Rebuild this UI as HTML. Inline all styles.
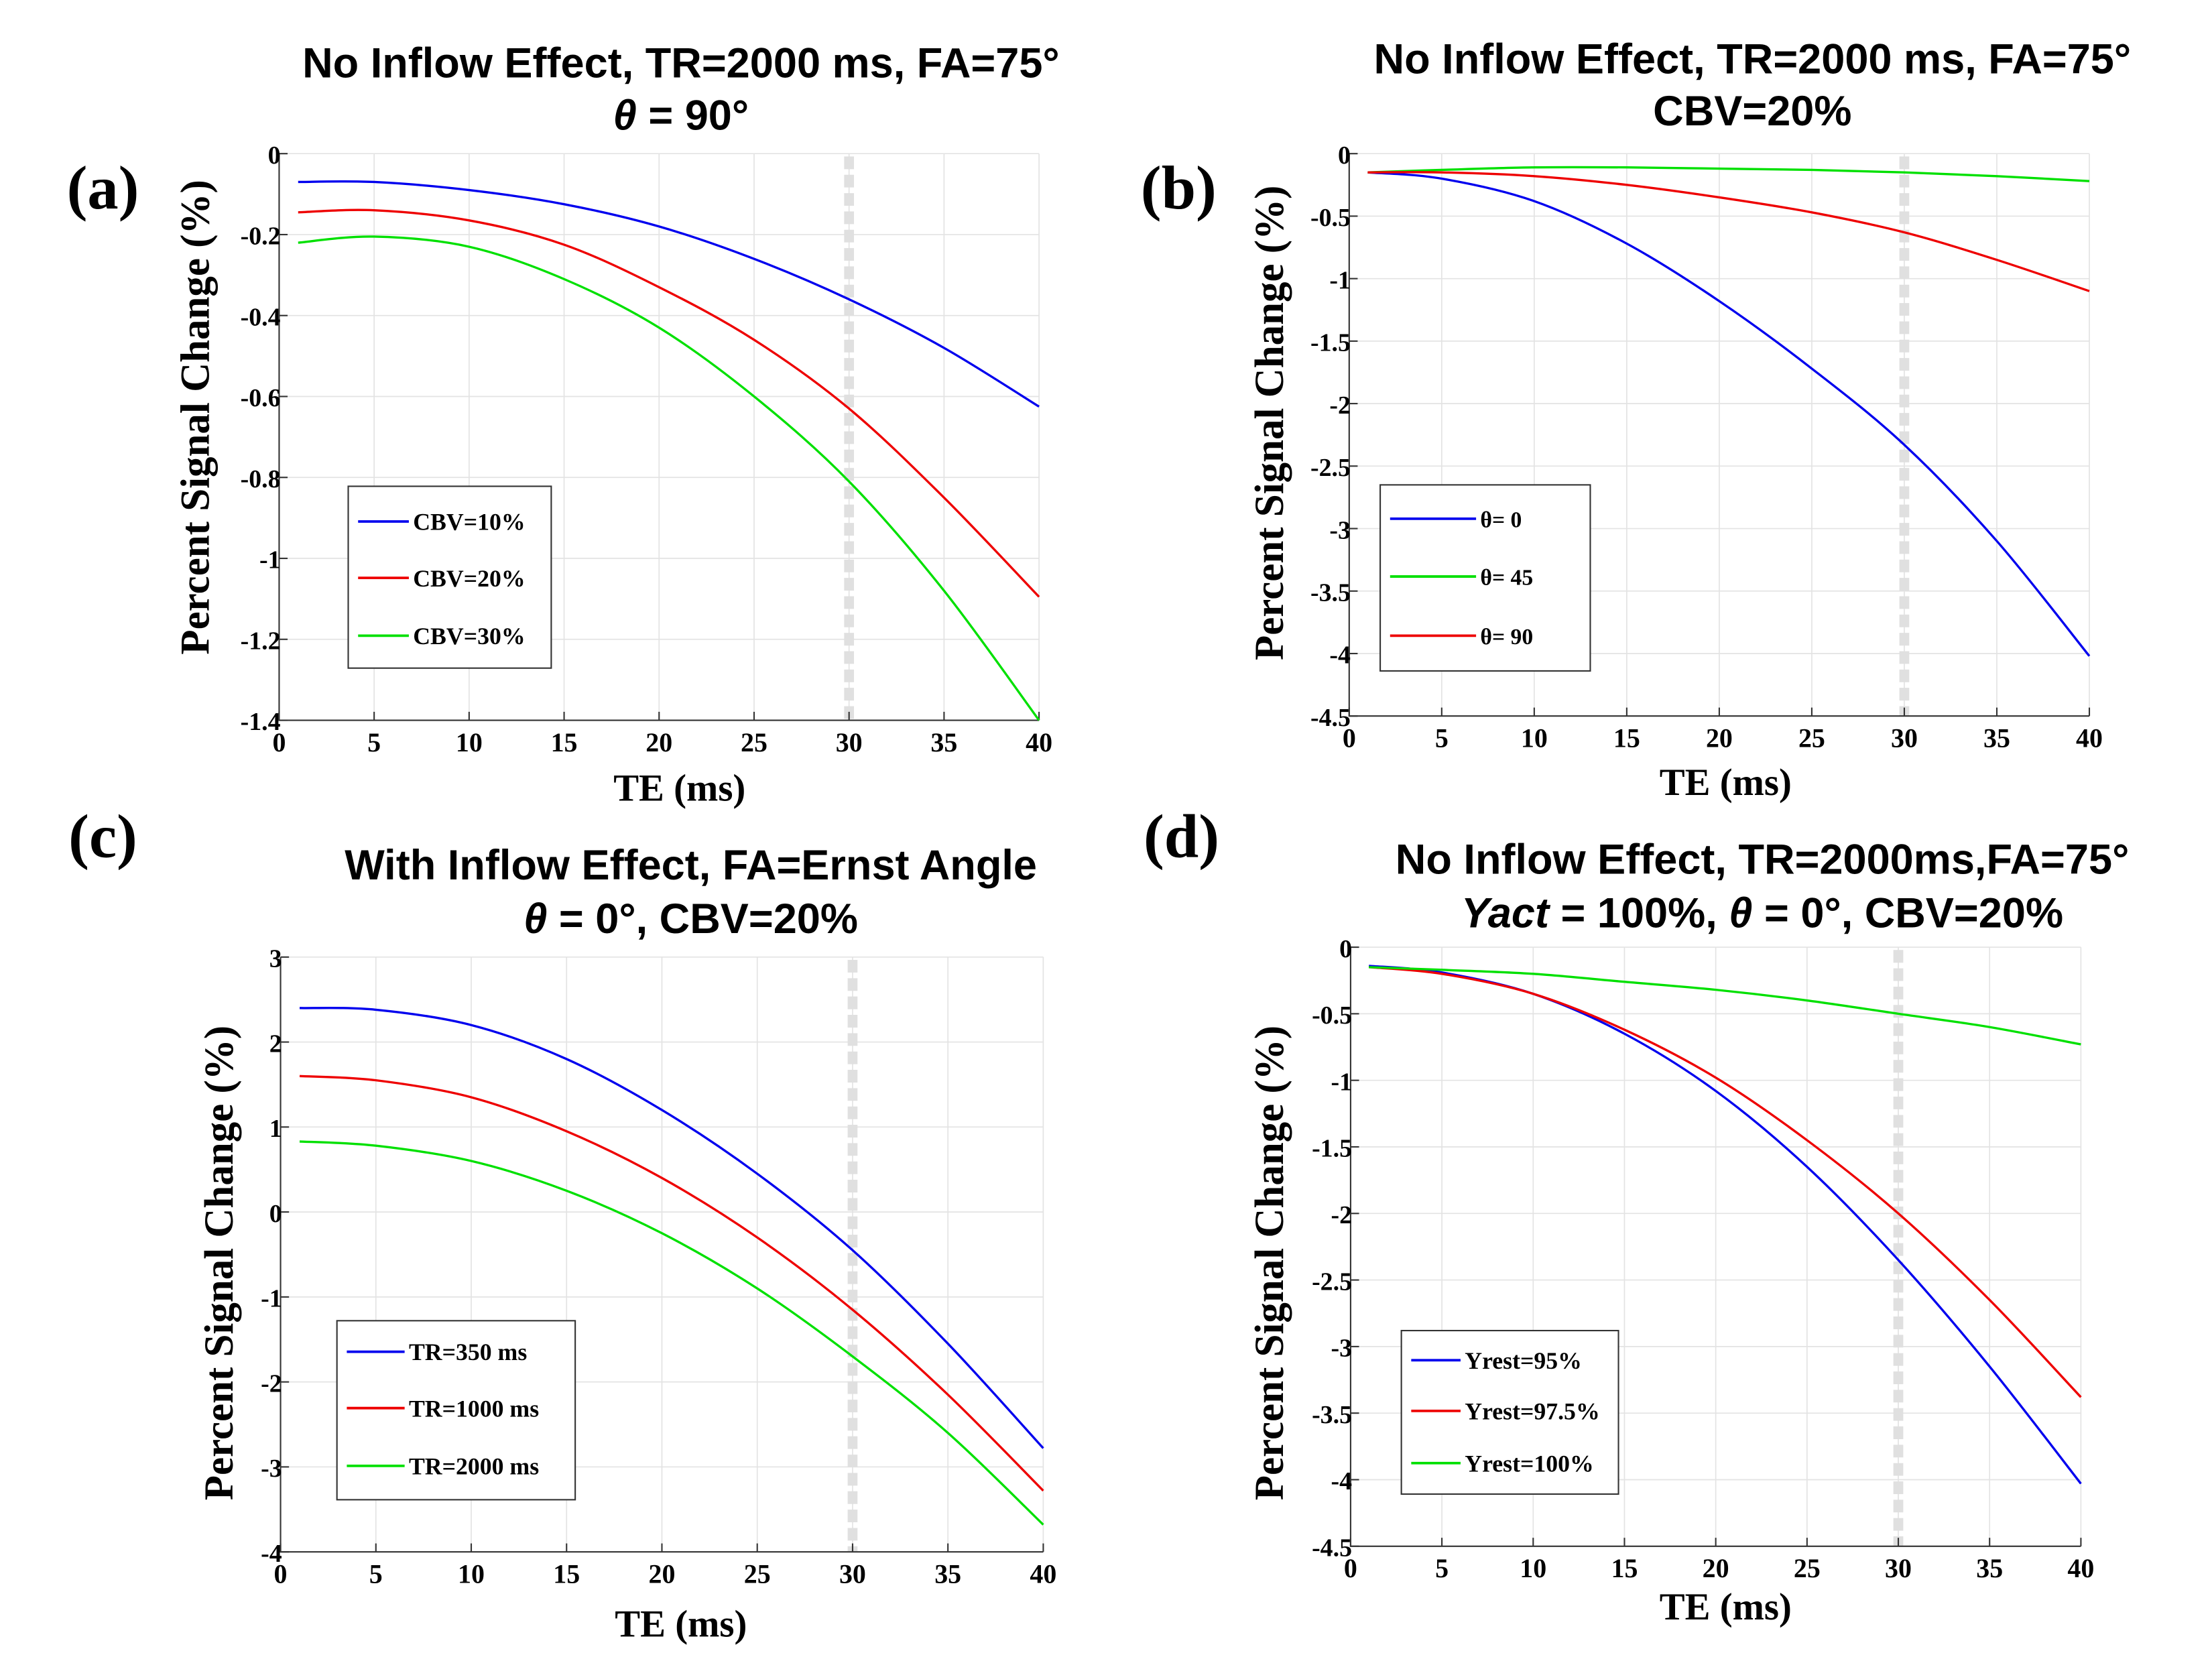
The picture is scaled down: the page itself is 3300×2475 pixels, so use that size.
<!DOCTYPE html>
<html><head><meta charset="utf-8"><style>
html,body{margin:0;padding:0;background:#fff}
svg{display:block}
</style></head><body>
<svg id="fig" width="3300" height="2475" viewBox="0 0 1569 1177" preserveAspectRatio="none" xmlns="http://www.w3.org/2000/svg"></svg>
<script>
const xs = [1,5,10,15,20,25,30,35,40];
const xTicks = [0,5,10,15,20,25,30,35,40];
// panel a
const aTicks = [0,-0.2,-0.4,-0.6,-0.8,-1,-1.2,-1.4];
const aBlue = [-0.07,-0.07,-0.09,-0.125,-0.18,-0.26,-0.36,-0.48,-0.625];
const aRed = [-0.145,-0.14,-0.165,-0.225,-0.33,-0.46,-0.63,-0.85,-1.095];
const aGreen = [-0.22,-0.205,-0.23,-0.31,-0.43,-0.6,-0.81,-1.08,-1.4];
const aNames = ["CBV=10%","CBV=20%","CBV=30%"];
// panel b
const bTicks = [0,-0.5,-1,-1.5,-2,-2.5,-3,-3.5,-4,-4.5];
const bBlue = [-0.15,-0.2,-0.38,-0.72,-1.18,-1.72,-2.33,-3.1,-4.02];
const bGreen = [-0.15,-0.13,-0.11,-0.11,-0.12,-0.13,-0.15,-0.18,-0.22];
const bRed = [-0.15,-0.15,-0.18,-0.25,-0.35,-0.47,-0.63,-0.85,-1.1];
const bNames = ["\u03b8= 0","\u03b8= 45","\u03b8= 90"];
// panel c
const cTicks = [3,2,1,0,-1,-2,-3,-4];
const cBlue = [2.4,2.38,2.2,1.8,1.2,0.45,-0.45,-1.55,-2.78];
const cRed = [1.6,1.55,1.35,0.95,0.4,-0.3,-1.15,-2.15,-3.28];
const cGreen = [0.83,0.78,0.6,0.25,-0.25,-0.9,-1.7,-2.6,-3.68];
const cNames = ["TR=350 ms","TR=1000 ms","TR=2000 ms"];
// panel d
const dTicks = [0,-0.5,-1,-1.5,-2,-2.5,-3,-3.5,-4,-4.5];
const dBlue = [-0.14,-0.19,-0.35,-0.65,-1.08,-1.65,-2.35,-3.15,-4.03];
const dRed = [-0.15,-0.2,-0.35,-0.62,-0.98,-1.45,-2.0,-2.65,-3.38];
const dGreen = [-0.15,-0.17,-0.2,-0.26,-0.32,-0.4,-0.5,-0.6,-0.73];
const dNames = ["Yrest=95%","Yrest=97.5%","Yrest=100%"];

const NS="http://www.w3.org/2000/svg";
const svg=document.getElementById('fig');
function el(tag,attrs,parent,text){const e=document.createElementNS(NS,tag);for(const k in attrs)e.setAttribute(k,attrs[k]);if(text!==undefined)e.textContent=text;(parent||svg).appendChild(e);return e;}
const serif='"Liberation Serif", serif';
const narrow='"Liberation Sans Narrow","Liberation Sans", sans-serif';

function panel(cfg){
  const g=el('g',{});
  
  
  const X=v=>cfg.x0+(v-0)/(40)*(cfg.x1-cfg.x0);
  const ymax=cfg.ticks[0], ymin=cfg.ticks[cfg.ticks.length-1];
  const Y=v=>cfg.y0+(ymax-v)/(ymax-ymin)*(cfg.y1-cfg.y0);
  xTicks.forEach(t=>{const l=el('line',{x1:X(t),x2:X(t),y1:cfg.y0,y2:cfg.y1,stroke:'#e3e3e3','stroke-width':0.8},g);
    });
  cfg.ticks.forEach(t=>{const l=el('line',{x1:cfg.x0,x2:cfg.x1,y1:Y(t),y2:Y(t),stroke:'#e3e3e3','stroke-width':0.8},g);
    });
  const dl=el('line',{x1:X(30),x2:X(30),y1:cfg.y0+2,y2:cfg.y1,stroke:'#e0e0e0','stroke-width':7,'stroke-dasharray':'9,4'},g);
  
  const ax=el('path',{d:`M${cfg.x0},${cfg.y0}V${cfg.y1}H${cfg.x1}`,fill:'none',stroke:'#333','stroke-width':1},g);
  
  xTicks.forEach(t=>{el('line',{x1:X(t),x2:X(t),y1:cfg.y1,y2:cfg.y1-6,stroke:'#333','stroke-width':1},g);
    const tx=el('text',{x:X(t),y:cfg.y1+22,'text-anchor':'middle','font-family':serif,'font-weight':'bold','font-size':19},g,String(t));
    });
  cfg.ticks.forEach(t=>{el('line',{x1:cfg.x0,x2:cfg.x0+6,y1:Y(t),y2:Y(t),stroke:'#333','stroke-width':1},g);
    const tx=el('text',{x:cfg.x0+1,y:Y(t)+7,'text-anchor':'end','font-family':serif,'font-weight':'bold','font-size':18},g,String(t));
    });
  cfg.series.forEach((s,i)=>{
    const p=xs.map((x,j)=>[X(x),Y(s[j])]);
    let d=`M${p[0][0]},${p[0][1]}`;
    for(let j=0;j<p.length-1;j++){const p0=p[Math.max(0,j-1)],p1=p[j],p2=p[j+1],p3=p[Math.min(p.length-1,j+2)];
      d+=`C${p1[0]+(p2[0]-p0[0])/6},${p1[1]+(p2[1]-p0[1])/6} ${p2[0]-(p3[0]-p1[0])/6},${p2[1]-(p3[1]-p1[1])/6} ${p2[0]},${p2[1]}`;}
    const path=el('path',{d,fill:'none',stroke:cfg.colors[i],'stroke-width':1.6},g);
    
    
  });
  const L=cfg.legend;
  const lg=el('g',{},g);
  
  el('rect',{x:L.x,y:L.y,width:L.w,height:L.h,fill:'#fff',stroke:'#333','stroke-width':1},lg);
  cfg.names.forEach((n,i)=>{
    const yy=L.ey[i];
    el('line',{x1:L.x+7,x2:L.x+L.lw,y1:yy,y2:yy,stroke:cfg.colors[i],'stroke-width':1.8},lg);
    const t=el('text',{x:L.x+L.lw+3,y:yy+6,'font-family':serif,'font-weight':'bold','font-size':cfg.lfs||17},lg,n);
    
  });
  const yl=el('text',{x:0,y:0,transform:`translate(${cfg.yl[0]},${cfg.yl[1]}) rotate(-90)`,'text-anchor':'middle','font-family':serif,'font-weight':'bold','font-size':29},g,'Percent Signal Change (%)');
  
  const xl=el('text',{x:cfg.xl[0],y:cfg.xl[1],'text-anchor':'middle','font-family':serif,'font-weight':'bold','font-size':27},g,'TE (ms)');
  
  const pl=el('text',{x:cfg.pl[0],y:cfg.pl[1],'text-anchor':'middle','font-family':serif,'font-weight':'bold','font-size':44},g,'('+cfg.id+')');
  
  cfg.title.forEach((line,i)=>{
    const t=el('text',{x:cfg.tc,y:cfg.ty[i],'text-anchor':'middle','font-family':narrow,'font-weight':'bold','font-size':30},g);
    
    line.forEach(seg=>{const ts=el('tspan',{},t,seg[0]);if(seg[1])ts.setAttribute('font-style','italic');});
  });
}
const BGR=['#0000ee','#ee0000','#00e000'];
panel({id:'a',x0:198,x1:737,y0:109,y1:511,ticks:aTicks,series:[aBlue,aRed,aGreen],names:aNames,colors:BGR,
  legend:{x:247,y:345,w:144,h:129,lw:43,ey:[370,410,451]},yl:[148,296],xl:[482,568],pl:[73,148],
  tc:483,ty:[55,92],title:[[["No Inflow Effect, TR=2000 ms, FA=75°"]],[["\u03b8",1],[" = 90°"]]]});
panel({id:'b',x0:957,x1:1482,y0:109,y1:508,ticks:bTicks,series:[bBlue,bGreen,bRed],names:bNames,colors:['#0000ee','#00e000','#ee0000'],
  legend:{x:979,y:344,w:149,h:132,lw:68,ey:[368,409,451]},lfs:16,yl:[910,300],xl:[1224,564],pl:[836,148],
  tc:1243,ty:[52,89],title:[[["No Inflow Effect, TR=2000 ms, FA=75°"]],[["CBV=20%"]]]});
panel({id:'c',x0:199,x1:740,y0:679,y1:1101,ticks:cTicks,series:[cBlue,cRed,cGreen],names:cNames,colors:BGR,
  legend:{x:239,y:937,w:169,h:127,lw:48,ey:[959,999,1040]},yl:[165,896],xl:[483,1161],pl:[73,608],
  tc:490,ty:[624,662],title:[[["With Inflow Effect, FA=Ernst Angle"]],[["\u03b8",1],[" = 0°, CBV=20%"]]]});
panel({id:'d',x0:958,x1:1476,y0:672,y1:1097,ticks:dTicks,series:[dBlue,dRed,dGreen],names:dNames,colors:BGR,
  legend:{x:994,y:944,w:154,h:116,lw:42,ey:[965,1001,1038]},yl:[910,896],xl:[1224,1149],pl:[838,608],
  tc:1250,ty:[620,658],title:[[["No Inflow Effect, TR=2000ms,FA=75°"]],[["Yact",1],[" = 100%, "],["\u03b8",1],[" = 0°, CBV=20%"]]]});
</script>
</body></html>
